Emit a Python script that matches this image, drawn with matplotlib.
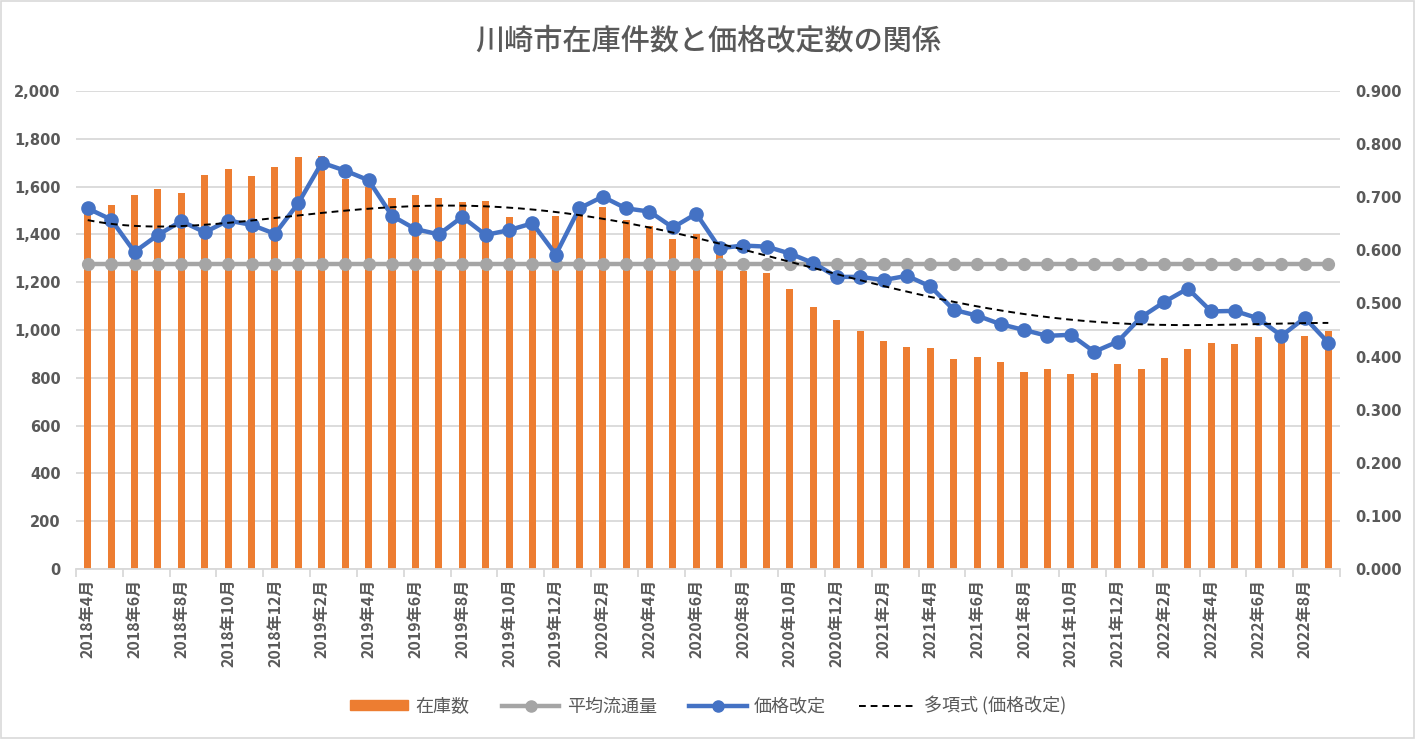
import numpy as np
import matplotlib
matplotlib.use("Agg")
import matplotlib.pyplot as plt
from matplotlib.patches import Rectangle
from matplotlib.lines import Line2D

plt.rcParams['font.family'] = ['Noto Sans CJK JP', 'DejaVu Sans']

months = [
    "2018年4月", "2018年5月", "2018年6月", "2018年7月", "2018年8月", "2018年9月",
    "2018年10月", "2018年11月", "2018年12月",
    "2019年1月", "2019年2月", "2019年3月", "2019年4月", "2019年5月", "2019年6月",
    "2019年7月", "2019年8月", "2019年9月", "2019年10月", "2019年11月", "2019年12月",
    "2020年1月", "2020年2月", "2020年3月", "2020年4月", "2020年5月", "2020年6月",
    "2020年7月", "2020年8月", "2020年9月", "2020年10月", "2020年11月", "2020年12月",
    "2021年1月", "2021年2月", "2021年3月", "2021年4月", "2021年5月", "2021年6月",
    "2021年7月", "2021年8月", "2021年9月", "2021年10月", "2021年11月", "2021年12月",
    "2022年1月", "2022年2月", "2022年3月", "2022年4月", "2022年5月", "2022年6月",
    "2022年7月", "2022年8月", "2022年9月",
]

inventory = [
    1515, 1523, 1565, 1591, 1573, 1648, 1674, 1644, 1682,
    1724, 1728, 1632, 1600, 1552, 1565, 1552, 1534, 1538, 1473, 1450, 1477,
    1490, 1515, 1460, 1435, 1381, 1402, 1335, 1247, 1238, 1172, 1096, 1042,
    996, 954, 929, 925, 879, 887, 866, 824, 837, 816, 820, 858,
    837, 883, 920, 946, 941, 971, 960, 975, 996,
]

avg_flow = 1278

price_rev = [
    0.679, 0.658, 0.597, 0.629, 0.655, 0.634, 0.656, 0.648, 0.631,
    0.689, 0.765, 0.750, 0.732, 0.665, 0.640, 0.630, 0.663, 0.629, 0.638, 0.651, 0.592,
    0.679, 0.701, 0.679, 0.673, 0.643, 0.669, 0.604, 0.609, 0.607, 0.594, 0.576, 0.550,
    0.550, 0.544, 0.552, 0.532, 0.488, 0.477, 0.461, 0.450, 0.439, 0.441, 0.409, 0.428,
    0.474, 0.503, 0.528, 0.485, 0.486, 0.472, 0.439, 0.473, 0.426,
]

trend_degree = 5

title = "川崎市在庫件数と価格改定数の関係"
legend_labels = ["在庫数", "平均流通量", "価格改定", "多項式 (価格改定)"]

ORANGE = "#ED7D31"
GRAY = "#A5A5A5"
BLUE = "#4472C4"
TXT = "#595959"
GRID = "#D9D9D9"

W, H = 1416, 739
fig = plt.figure(figsize=(W / 100, H / 100), dpi=100)
fig.patches.append(Rectangle((0.0005, 0.001), 0.998, 0.997, transform=fig.transFigure,
                             fill=False, edgecolor=GRID, linewidth=1.2))

L, R, T, B = 76, 1340, 91, 569
ax = fig.add_axes([L / W, 1 - B / H, (R - L) / W, (B - T) / H])
ax2 = ax.twinx()

n = len(months)
x = np.arange(n)

ax.bar(x, inventory, width=0.3, color=ORANGE, zorder=2)
ax.plot(x, [avg_flow] * n, color=GRAY, lw=3.2, marker='o', ms=8.5, zorder=3)

ax.set_ylim(0, 2000)
ax.set_xlim(-0.5, n - 0.5)
ax.set_yticks(np.arange(0, 2001, 200))
ax.set_yticklabels([f"{v:,}" for v in range(0, 2001, 200)])
ax.grid(axis='y', color=GRID, lw=1.3, zorder=0)
ax.set_axisbelow(True)

# trendline (polynomial fit of 価格改定)
xt = x + 1
coef = np.polyfit(xt, price_rev, trend_degree)
xs = np.linspace(1, n, 400)
ax2.plot(x, price_rev, color=BLUE, lw=3.2, marker='o', ms=9.5, zorder=4)
ax2.plot(xs - 1, np.polyval(coef, xs), color='black', lw=1.4, ls=(0, (3.5, 2.5)), zorder=5)
ax2.set_ylim(0, 0.9)
ax2.set_yticks(np.arange(0, 0.91, 0.1))
ax2.set_yticklabels([f"{v:.3f}" for v in np.arange(0, 0.91, 0.1)])

for a in (ax, ax2):
    for s in a.spines.values():
        s.set_visible(False)
    a.tick_params(axis='y', length=0, colors=TXT, labelsize=10.5)
for lab in ax.get_yticklabels() + ax2.get_yticklabels():
    lab.set_fontweight('bold')
    lab.set_family(['DejaVu Sans'])
ax.tick_params(axis='y', pad=11)
ax2.tick_params(axis='y', pad=11)

ax.spines['bottom'].set_visible(True)
ax.spines['bottom'].set_color(GRID)
ax.spines['bottom'].set_linewidth(1.3)
ax.set_xticks(x[::2])
ax.set_xticklabels(months[::2], rotation=90, fontsize=11.5, fontweight='bold', color=TXT)
ax.tick_params(axis='x', which='major', length=0, pad=7)
ax.set_xticks(np.arange(-0.5, n, 2), minor=True)
ax.tick_params(axis='x', which='minor', length=6, color=GRID, width=1.3)

fig.text(0.5, 1 - 42 / H, title, ha='center', va='center', fontsize=21, color=TXT,
         fontweight='medium')

handles = [
    Rectangle((0, 0), 1, 1, color=ORANGE),
    Line2D([], [], color=GRAY, lw=3.2, marker='o', ms=8),
    Line2D([], [], color=BLUE, lw=3.2, marker='o', ms=8),
    Line2D([], [], color='black', lw=1.4, ls=(0, (3.5, 2.5))),
]
leg = fig.legend(handles, legend_labels, loc='center', bbox_to_anchor=(0.5, 1 - 706 / H),
                 ncol=4, frameon=False, fontsize=13, handlelength=3.2, handleheight=0.5,
                 columnspacing=1.8, handletextpad=0.4)
for t in leg.get_texts():
    t.set_color(TXT)

fig.savefig("out.png", dpi=100)
